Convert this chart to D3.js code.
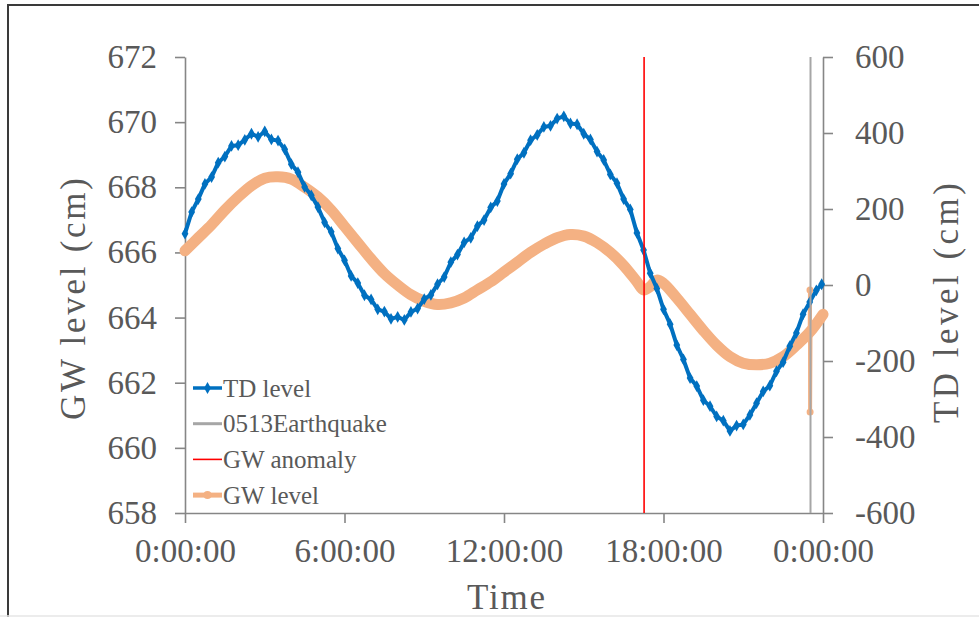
<!DOCTYPE html>
<html><head><meta charset="utf-8">
<script src="https://cdn.jsdelivr.net/npm/d3@7"></script>
<style>
body{margin:0;background:#fff}
svg{display:block}
text{font-family:"Liberation Serif","Times New Roman",serif;fill:#595959}
</style>
</head><body><svg id="c" width="979" height="617"></svg>
<script>
// ---- data (hours since 0:00, levels in cm) ----
const tdHours = [0,0.25,0.5,0.75,1,1.25,1.5,1.75,2,2.25,2.5,2.75,3,3.25,3.5,3.75,4,4.25,4.5,4.75,5,5.25,5.5,5.75,6,6.25,6.5,6.75,7,7.25,7.5,7.75,8,8.25,8.5,8.75,9,9.25,9.5,9.75,10,10.25,10.5,10.75,11,11.25,11.5,11.75,12,12.25,12.5,12.75,13,13.25,13.5,13.75,14,14.25,14.5,14.75,15,15.25,15.5,15.75,16,16.25,16.5,16.75,17,17.25,17.5,17.75,18,18.25,18.5,18.75,19,19.25,19.5,19.75,20,20.25,20.5,20.75,21,21.25,21.5,21.75,22,22.25,22.5,22.75,23,23.25,23.5,23.75,23.95];
const tdLevel = [135,192,226,266,284,322,338,366,368,382,398,390,404,383,380,357,318,297,258,236,205,165,140,96,65,24,5,-27,-38,-64,-70,-89,-84,-92,-71,-62,-37,-26,2,21,60,80,112,124,155,171,204,221,266,293,331,348,381,395,416,419,438,444,425,423,398,383,351,329,291,268,226,199,137,92,31,-9,-64,-103,-158,-196,-245,-266,-303,-319,-346,-357,-384,-370,-367,-342,-311,-280,-265,-227,-203,-161,-126,-77,-45,-14,2];

const gwHours = [0,0.5,1,1.5,2,2.5,3,3.5,4,4.5,5,5.5,6,6.5,7,7.5,8,8.5,9,9.5,10,10.5,11,11.5,12,12.5,13,13.5,14,14.5,15,15.5,16,16.5,17,17.25,17.5,17.75,18,18.5,19,19.5,20,20.5,21,21.5,22,22.5,23,23.5,24];
const gwLevel = [666.05,666.45,666.85,667.3,667.7,668.05,668.28,668.32,668.25,668.0,667.7,667.3,666.8,666.3,665.8,665.35,665.0,664.7,664.5,664.4,664.45,664.6,664.85,665.1,665.4,665.7,666.0,666.25,666.45,666.55,666.5,666.3,666.0,665.6,665.1,664.85,664.95,665.15,665.05,664.6,664.1,663.6,663.15,662.8,662.6,662.55,662.6,662.8,663.15,663.55,664.1];

const gwQuakeHours = [23.50,23.51,23.515,23.53];
const gwQuakeLevel = [663.55,664.85,661.1,663.6];

const anomalyHours = [17.27];
const quakeHours = [23.53];

const gwTicks = [658,660,662,664,666,668,670,672];
const tdTicks = [-600,-400,-200,0,200,400,600];
const timeTicks = [0,6,12,18,24];
const timeLabels = ["0:00:00","6:00:00","12:00:00","18:00:00","0:00:00"];

const legendNames = ["TD level","0513Earthquake","GW anomaly","GW level"];

// ---- drawing ----
const svg = d3.select("#c");
const C = {blue:"#0070C0", orange:"#F4B183", red:"#FF0000", gray:"#A6A6A6", axis:"#868686", text:"#595959"};

// frame
svg.append("rect").attr("x",8).attr("y",5).attr("width",1000).attr("height",640)
  .attr("fill","none").attr("stroke","#3a3a3a").attr("stroke-width",2);
svg.append("line").attr("x1",0).attr("x2",979).attr("y1",616).attr("y2",616)
  .attr("stroke","#e6e6e6").attr("stroke-width",1.5);

const L = 185, R = 823, T = 57, B = 513;
const x = d3.scaleLinear().domain([0,24]).range([L,R]);
const yL = d3.scaleLinear().domain([658,672]).range([B,T]);
const yR = d3.scaleLinear().domain([-600,600]).range([B,T]);

function styleAxis(g, fs){
  g.selectAll("path.domain").attr("stroke",C.axis).attr("stroke-width",1.6);
  g.selectAll(".tick line").attr("stroke",C.axis).attr("stroke-width",1.6);
  g.selectAll("text").attr("fill",C.text).style("font-size",fs+"px")
    .style("font-family",'"Liberation Serif","Times New Roman",serif');
}

const gx = svg.append("g").attr("transform",`translate(0,${B})`)
  .call(d3.axisBottom(x).tickValues(timeTicks).tickSize(10).tickSizeOuter(0).tickPadding(16)
    .tickFormat((d,i)=>timeLabels[i]));
styleAxis(gx,33);

const gl = svg.append("g").attr("transform",`translate(${L},0)`)
  .call(d3.axisLeft(yL).tickValues(gwTicks).tickSize(10).tickSizeOuter(0).tickPadding(18)
    .tickFormat(d=>String(d)));
styleAxis(gl,33);

const gr = svg.append("g").attr("transform",`translate(${R},0)`)
  .call(d3.axisRight(yR).tickValues(tdTicks).tickSize(10).tickSizeOuter(0).tickPadding(22)
    .tickFormat(d=>String(d)));
styleAxis(gr,33);

// axis titles
svg.append("text").attr("transform",`translate(85,299) rotate(-90)`).attr("text-anchor","middle")
  .style("font-size","35px").attr("textLength",242).attr("lengthAdjust","spacing").text("GW level (cm)");
svg.append("text").attr("transform",`translate(958,303) rotate(-90)`).attr("text-anchor","middle")
  .style("font-size","35px").attr("textLength",240).attr("lengthAdjust","spacing").text("TD level (cm)");
svg.append("text").attr("x",506).attr("y",609).attr("text-anchor","middle")
  .style("font-size","35px").attr("textLength",78).attr("lengthAdjust","spacing").text("Time");

// GW level (primary axis)
const gwData = gwHours.map((h,i)=>[h,gwLevel[i]]);
const gwLine = d3.line().x(d=>x(d[0])).y(d=>yL(d[1])).curve(d3.curveCatmullRom);
svg.append("path").datum(gwData).attr("d",gwLine).attr("fill","none")
  .attr("stroke",C.orange).attr("stroke-width",11).attr("stroke-linecap","round").attr("stroke-linejoin","round");

const gwQ = gwQuakeHours.map((h,i)=>[h,gwQuakeLevel[i]]);
svg.append("path").datum(gwQ).attr("d",d3.line().x(d=>x(d[0])).y(d=>yL(d[1])))
  .attr("fill","none").attr("stroke",C.orange).attr("stroke-width",4);
svg.selectAll("circle.gq").data(gwQ).join("circle").attr("class","gq")
  .attr("cx",d=>x(d[0])).attr("cy",d=>yL(d[1])).attr("r",3.5).attr("fill",C.orange);

// TD level (secondary axis)
const tdData = tdHours.map((h,i)=>[h,tdLevel[i]]);
svg.append("path").datum(tdData).attr("d",d3.line().x(d=>x(d[0])).y(d=>yR(d[1])))
  .attr("fill","none").attr("stroke",C.blue).attr("stroke-width",4).attr("stroke-linejoin","round");
const diamond = d3.symbol().type(d3.symbolDiamond).size(40);
svg.selectAll("path.tdm").data(tdData).join("path").attr("class","tdm")
  .attr("transform",d=>`translate(${x(d[0])},${yR(d[1])})`).attr("d",diamond).attr("fill",C.blue);

// vertical event lines
svg.selectAll("line.anom").data(anomalyHours).join("line").attr("class","anom")
  .attr("x1",d=>x(d)).attr("x2",d=>x(d)).attr("y1",yL(672)).attr("y2",yL(658))
  .attr("stroke",C.red).attr("stroke-width",1.6);
svg.selectAll("line.quake").data(quakeHours).join("line").attr("class","quake")
  .attr("x1",d=>x(d)).attr("x2",d=>x(d)).attr("y1",yL(672)).attr("y2",yL(658))
  .attr("stroke",C.gray).attr("stroke-width",2);

// legend
const lg = svg.append("g").attr("transform","translate(193,388)");
const legColors = [C.blue,C.gray,C.red,C.orange];
const legWidths = [3.5,3,1.6,5];
legendNames.forEach((n,i)=>{
  const g = lg.append("g").attr("transform",`translate(0,${i*35.7})`);
  g.append("line").attr("x1",0).attr("x2",29).attr("stroke",legColors[i]).attr("stroke-width",legWidths[i]);
  if(i===0) g.append("path").attr("transform","translate(14.5,0)").attr("d",diamond).attr("fill",C.blue);
  if(i===3) g.append("circle").attr("cx",14.5).attr("r",4).attr("fill",C.orange);
  g.append("text").attr("x",30).attr("dy","0.35em").style("font-size","25px").attr("fill",C.text).text(n);
});
</script></body></html>
